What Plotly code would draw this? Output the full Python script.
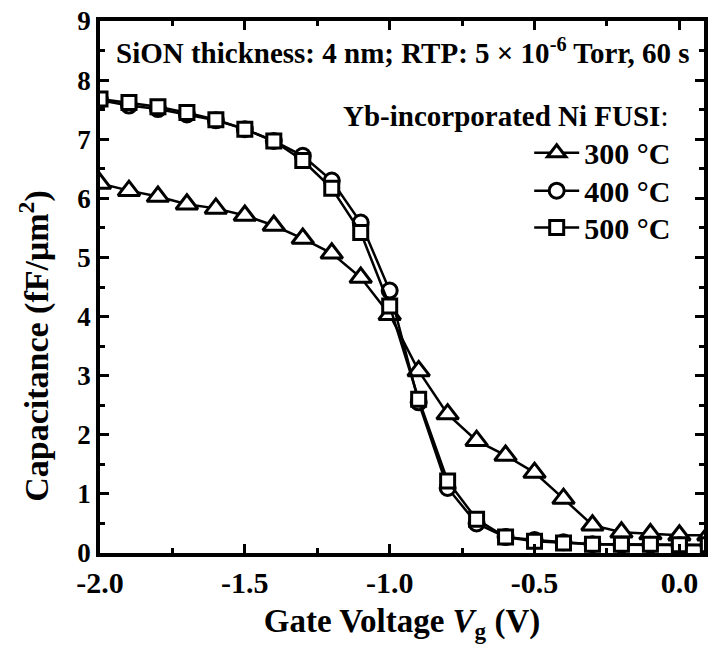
import plotly.graph_objects as go

# ---------------- data ----------------
vg = [-2.0, -1.9, -1.8, -1.7, -1.6, -1.5, -1.4, -1.3, -1.2, -1.1, -1.0,
      -0.9, -0.8, -0.7, -0.6, -0.5, -0.4, -0.3, -0.2, -0.1, 0.0, 0.1]
cap_300 = [6.25, 6.13, 6.03, 5.90, 5.83, 5.71, 5.54, 5.32, 5.07, 4.66, 4.03,
           3.08, 2.35, 1.90, 1.65, 1.36, 0.92, 0.47, 0.35, 0.32, 0.30, 0.30]
cap_400 = [7.66, 7.57, 7.51, 7.42, 7.32, 7.17, 6.97, 6.72, 6.30, 5.59, 4.44,
           2.55, 1.10, 0.50, 0.27, 0.22, 0.18, 0.15, 0.14, 0.14, 0.13, 0.13]
cap_500 = [7.68, 7.62, 7.55, 7.45, 7.33, 7.17, 6.97, 6.64, 6.17, 5.42, 4.18,
           2.60, 1.22, 0.57, 0.27, 0.20, 0.17, 0.15, 0.15, 0.15, 0.14, 0.14]
series_names = ["300 °C", "400 °C", "500 °C"]
x_tickvals = [-2.0, -1.5, -1.0, -0.5, 0.0]
x_ticktext = ["-2.0", "-1.5", "-1.0", "-0.5", "0.0"]
y_tickvals = [0, 1, 2, 3, 4, 5, 6, 7, 8, 9]

FONT = "Liberation Serif, Times New Roman, serif"
W, H = 714, 657
ML, MR, MT, MB = 100, 6, 20, 104

pw = W - ML - MR
ph = H - MT - MB

def px_x(p):
    return (p - ML) / pw

def px_y(p):
    return (H - MB - p) / ph

fig = go.Figure()
styles = [("triangle-up", 19), ("circle", 15), ("square", 14)]
legend_ids = ["legend", "legend2", "legend3"]
for name, ys, (sym, sz), lg in zip(series_names, [cap_300, cap_400, cap_500],
                                   styles, legend_ids):
    fig.add_trace(go.Scatter(
        x=vg, y=ys, name=name, mode="lines+markers", legend=lg, showlegend=True,
        line=dict(color="black", width=2.5),
        marker=dict(symbol=sym, size=sz, color="white",
                    line=dict(color="black", width=3)),
    ))

axis_common = dict(
    showline=True, linecolor="black", linewidth=3.5, mirror="allticks",
    ticks="inside", ticklen=9, tickwidth=3, tickcolor="black",
    showgrid=False, zeroline=False,
)

fig.update_xaxes(
    range=[-2.0, 0.085], tickmode="array", tickvals=x_tickvals, ticktext=x_ticktext,
    tickfont=dict(family=FONT, size=30, color="black", weight="bold"),
    minor=dict(tickmode="linear", tick0=0, dtick=0.25, ticks="inside",
               ticklen=5, tickwidth=2.5, tickcolor="black"),
    title=dict(text="Gate Voltage <i>V</i><sub>g</sub> (V)", standoff=12,
               font=dict(family=FONT, size=33, color="black", weight="bold")),
    **axis_common,
)
fig.update_yaxes(
    range=[0, 9], tickmode="array", tickvals=y_tickvals,
    tickfont=dict(family=FONT, size=27, color="black", weight="bold"),
    minor=dict(tickmode="linear", tick0=0, dtick=0.5, ticks="inside",
               ticklen=5, tickwidth=2.5, tickcolor="black"),
    **axis_common,
)

fig.add_annotation(
    text="SiON thickness: 4 nm; RTP: 5 × 10<sup>-6</sup> Torr, 60 s",
    xref="paper", yref="paper", x=px_x(405), y=px_y(50),
    xanchor="center", yanchor="middle", showarrow=False,
    font=dict(family=FONT, size=29, color="black", weight="bold"),
)
fig.add_annotation(
    text="Yb-incorporated Ni FUSI<span style='font-weight:normal'>:</span>",
    xref="paper", yref="paper", x=px_x(674), y=px_y(115),
    xanchor="right", yanchor="middle", showarrow=False,
    font=dict(family=FONT, size=29, color="black", weight="bold"),
)
fig.add_annotation(
    text="Capacitance (fF/μm<sup>2</sup>)",
    xref="paper", yref="paper", x=px_x(34), y=px_y(345),
    xanchor="center", yanchor="middle", showarrow=False, textangle=-90,
    font=dict(family=FONT, size=34, color="black", weight="bold"),
)

legend_rows = [152, 190, 227]
legend_style = dict(
    xanchor="right", yanchor="middle", visible=True,
    bgcolor="rgba(0,0,0,0)", borderwidth=0, itemwidth=45,
    font=dict(family=FONT, size=30, color="black", weight="bold"),
)
fig.update_layout(
    width=W, height=H, showlegend=True,
    margin=dict(l=ML, r=MR, t=MT, b=MB, pad=0),
    paper_bgcolor="white", plot_bgcolor="white",
    font=dict(family=FONT, color="black", weight="bold"),
    legend=dict(x=px_x(680), y=px_y(legend_rows[0]), **legend_style),
    legend2=dict(x=px_x(680), y=px_y(legend_rows[1]), **legend_style),
    legend3=dict(x=px_x(680), y=px_y(legend_rows[2]), **legend_style),
)

fig.write_html("out.html")
